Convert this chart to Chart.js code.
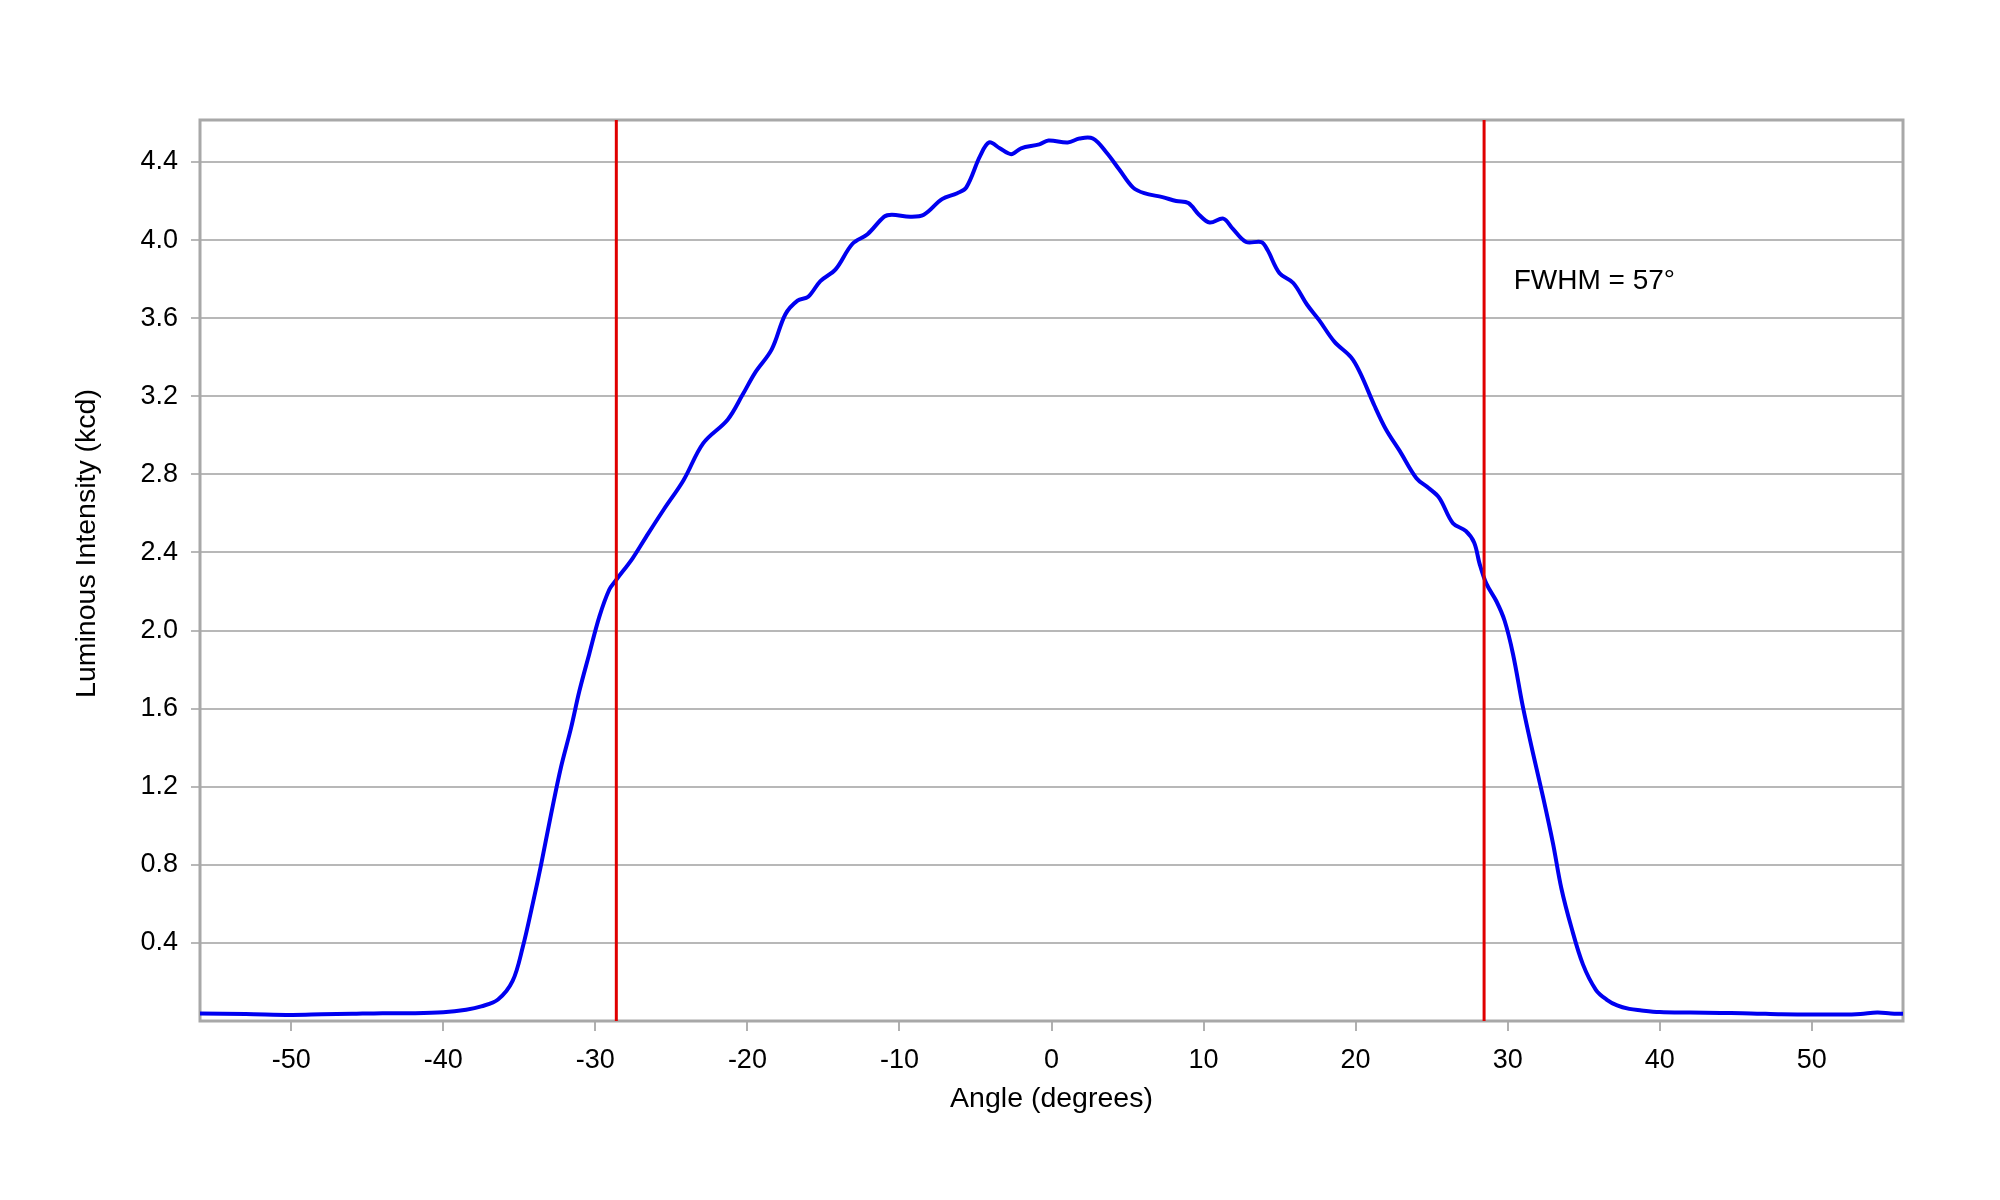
<!DOCTYPE html>
<html>
<head>
<meta charset="utf-8">
<title>Luminous Intensity vs Angle</title>
<script src="https://cdn.jsdelivr.net/npm/chart.js@4.4.1/dist/chart.umd.min.js"></script>
<style>
  html, body { margin: 0; padding: 0; background: #ffffff; }
  #wrap { width: 2000px; height: 1200px; }
</style>
</head>
<body>
<div id="wrap"><canvas id="beamChart" width="2000" height="1200"></canvas></div>
<script>
// angle (degrees) and luminous intensity (kcd)
const angles = [
  -56, -53, -50, -48, -46, -44, -42, -40, -38.5, -37.5, -36.4, -35.44, -34.78, -34.12,
  -33.57, -32.91, -32.26, -31.6, -31.05, -30.4, -29.74, -29.08, -28.62, -27.55, -26.66,
  -25.5, -24.2, -22.9, -21.3, -20.3, -19.5, -18.4, -17.5, -16.7, -16.0, -15.2, -14.2,
  -13.1, -12.1, -11.0, -10.5, -9.3, -8.4, -7.2, -6.2, -5.6, -4.7, -4.1, -3.4, -2.65,
  -2.0, -0.8, -0.2, 1.07, 1.84, 2.72, 3.6, 4.47, 5.35, 6.1, 7.3, 8.2, 9.0, 9.7, 10.4,
  11.3, 11.9, 12.8, 13.8, 14.2, 15.0, 15.9, 16.8, 17.6, 18.6, 19.7, 20.3, 21.25, 22.0,
  22.9, 24.0, 24.8, 25.5, 26.4, 27.25, 27.8, 28.16, 28.6, 29.26, 29.8, 30.35, 31.0, 31.67,
  32.32, 32.98, 33.53, 34.19, 34.95, 35.8, 36.5, 37.2, 38.0, 38.7, 40, 42, 44, 46, 48, 50, 52,
  53.2, 54.3, 55.2, 56
];
const intensity = [
  0.038, 0.036, 0.031, 0.034, 0.037, 0.040, 0.040, 0.045, 0.058, 0.075, 0.11, 0.205, 0.376, 0.60,
  0.80, 1.06, 1.30, 1.50, 1.69, 1.88, 2.07, 2.21, 2.26, 2.37, 2.48,
  2.62, 2.77, 2.96, 3.08, 3.21, 3.32, 3.44, 3.62, 3.69, 3.71, 3.79, 3.85,
  3.98, 4.03, 4.12, 4.13, 4.12, 4.13, 4.21, 4.24, 4.27, 4.43, 4.50, 4.47, 4.44,
  4.47, 4.49, 4.51, 4.50, 4.52, 4.52, 4.45, 4.36, 4.27, 4.24, 4.22, 4.20, 4.19, 4.13, 4.09,
  4.11, 4.06, 3.99, 3.99, 3.95, 3.83, 3.78, 3.67, 3.59, 3.48, 3.40, 3.32, 3.15, 3.03,
  2.92, 2.78, 2.73, 2.68, 2.55, 2.51, 2.45, 2.34, 2.24, 2.15, 2.05, 1.88, 1.61, 1.37,
  1.15, 0.91, 0.68, 0.48, 0.29, 0.16, 0.11, 0.08, 0.062, 0.055, 0.046, 0.043, 0.041, 0.039, 0.034, 0.033, 0.033,
  0.036, 0.043, 0.039, 0.037
];

// half-maximum markers and the label
const fwhmAngles = [-28.62, 28.45];
const fwhmLabel = 'FWHM = 57\u00b0';
const fwhmLabelPos = [30.4, 3.79];

// axis ranges and tick labels
const xRange = [-56, 56];
const yRange = [0, 4.615];
const xTickValues = [-50, -40, -30, -20, -10, 0, 10, 20, 30, 40, 50];
const yTickValues = [0.4, 0.8, 1.2, 1.6, 2.0, 2.4, 2.8, 3.2, 3.6, 4.0, 4.4];
const yTitle = 'Luminous Intensity (kcd)';

const fontFamily = '"Liberation Sans", Arial, sans-serif';

const curvePoints = angles.map((a, i) => ({ x: a, y: intensity[i] }));
const markerSets = fwhmAngles.map(a => ({
    data: [{ x: a, y: yRange[0] }, { x: a, y: yRange[1] }],
    borderColor: '#e00000',
    borderWidth: 3,
    pointRadius: 0,
    tension: 0,
    order: 0
}));

// box round the plot area
const frameBox = {
    id: 'frameBox',
    beforeDatasetsDraw(chart) {
        const { ctx, chartArea: a } = chart;
        ctx.save();
        ctx.strokeStyle = '#a8a8a8';
        ctx.lineWidth = 3;
        ctx.strokeRect(a.left, a.top, a.right - a.left, a.bottom - a.top);
        ctx.restore();
    }
};

// FWHM text in data units, and the rotated y title (sits a little above centre)
const extraText = {
    id: 'extraText',
    afterDraw(chart) {
        const { ctx, scales, chartArea: a } = chart;
        ctx.save();
        ctx.fillStyle = '#000000';
        ctx.font = '28px ' + fontFamily;
        ctx.textAlign = 'left';
        ctx.textBaseline = 'middle';
        ctx.fillText(fwhmLabel, scales.x.getPixelForValue(fwhmLabelPos[0]), scales.y.getPixelForValue(fwhmLabelPos[1]));

        ctx.translate(87, (a.top + a.bottom) / 2 - 27);
        ctx.rotate(-Math.PI / 2);
        ctx.textAlign = 'center';
        ctx.font = '28.5px ' + fontFamily;
        ctx.fillText(yTitle, 0, 0);
        ctx.restore();
    }
};

new Chart(document.getElementById('beamChart').getContext('2d'), {
    type: 'line',
    data: {
        datasets: [
            ...markerSets,
            {
                data: curvePoints,
                borderColor: '#0000f0',
                borderWidth: 4,
                pointRadius: 0,
                tension: 0.35,
                order: 1
            }
        ]
    },
    options: {
        responsive: false,
        animation: false,
        devicePixelRatio: 1,
        layout: { padding: { left: 67, right: 97, top: 120, bottom: 80 } },
        plugins: {
            legend: { display: false },
            tooltip: { enabled: false }
        },
        scales: {
            x: {
                type: 'linear',
                min: xRange[0],
                max: xRange[1],
                afterBuildTicks: axis => { axis.ticks = xTickValues.map(v => ({ value: v })); },
                afterFit: axis => { axis.height = 99; },
                border: { display: false },
                grid: { drawOnChartArea: false, drawTicks: true, tickLength: 10, color: '#b0b0b0', lineWidth: 2 },
                ticks: { color: '#000000', padding: 13, maxRotation: 0, font: { family: fontFamily, size: 27 } },
                title: { display: true, text: 'Angle (degrees)', color: '#000000', font: { family: fontFamily, size: 28.5 } }
            },
            y: {
                min: yRange[0],
                max: yRange[1],
                afterBuildTicks: axis => { axis.ticks = yTickValues.map(v => ({ value: v })); },
                afterFit: axis => { axis.width = 133; },
                border: { display: false },
                grid: { color: '#b8b8b8', lineWidth: 2, tickLength: 9 },
                ticks: {
                    color: '#000000',
                    padding: 13,
                    font: { family: fontFamily, size: 27 },
                    callback: v => Number(v).toFixed(1)
                },
                title: { display: false }
            }
        }
    },
    plugins: [frameBox, extraText]
});
</script>
</body>
</html>
